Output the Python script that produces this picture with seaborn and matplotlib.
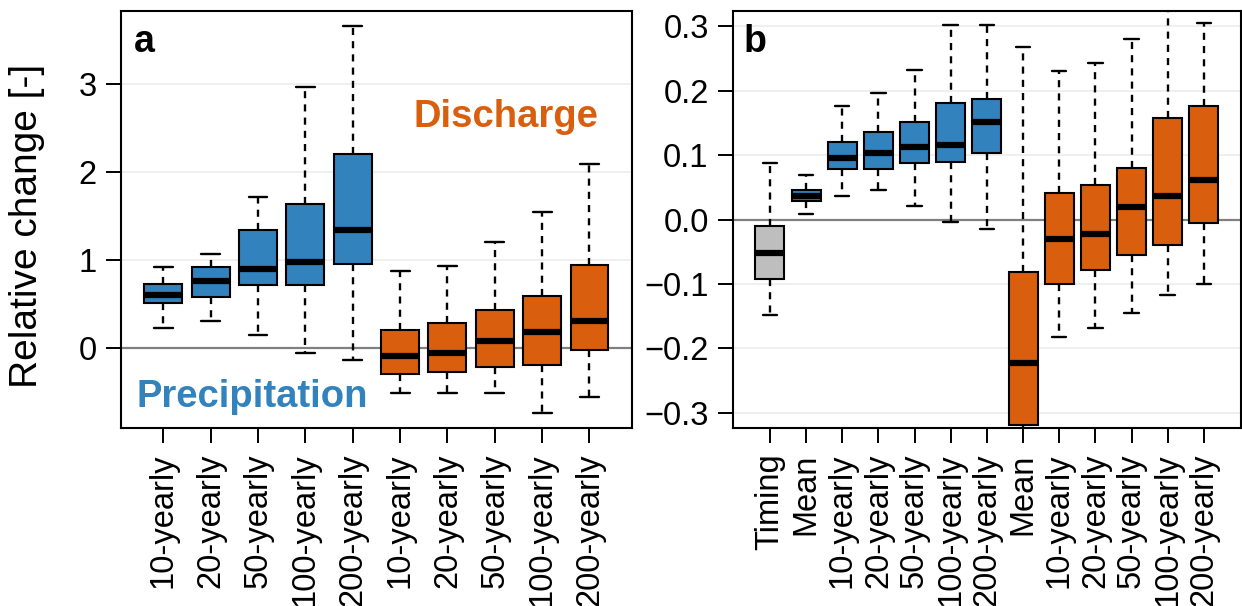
import numpy as np
import pandas as pd
import matplotlib
matplotlib.use("Agg")
import matplotlib.pyplot as plt
import seaborn as sns

# ── Data (five-number summaries) ──────────────────────────────────────────────
RETURN_LABELS = ["10-yearly", "20-yearly", "50-yearly", "100-yearly", "200-yearly"]

# panel a: precipitation (5) then discharge (5) extremes
a_groups = ["Precipitation"] * 5 + ["Discharge"] * 5
a_labels = RETURN_LABELS + RETURN_LABELS
a_low  = [0.22, 0.30, 0.15, -0.06, -0.14, -0.52, -0.52, -0.52, -0.74, -0.56]
a_q1   = [0.51, 0.58, 0.72, 0.71, 0.95, -0.30, -0.28, -0.22, -0.20, -0.03]
a_med  = [0.60, 0.76, 0.90, 0.98, 1.34, -0.10, -0.06, 0.08, 0.18, 0.31]
a_q3   = [0.73, 0.92, 1.34, 1.64, 2.21, 0.20, 0.28, 0.43, 0.59, 0.94]
a_high = [0.92, 1.07, 1.72, 2.97, 3.66, 0.87, 0.93, 1.20, 1.55, 2.09]

# panel b: timing, precipitation mean + extremes, discharge mean + extremes
b_groups = ["Timing"] + ["Precipitation"] * 6 + ["Discharge"] * 6
b_labels = ["Timing", "Mean"] + RETURN_LABELS + ["Mean"] + RETURN_LABELS
b_low  = [-0.149, 0.009, 0.036, 0.046, 0.021, -0.004, -0.014,
          -0.45, -0.182, -0.169, -0.145, -0.118, -0.100]
b_q1   = [-0.093, 0.029, 0.079, 0.079, 0.088, 0.090, 0.103,
          -0.319, -0.100, -0.079, -0.055, -0.039, -0.006]
b_med  = [-0.052, 0.036, 0.096, 0.104, 0.113, 0.116, 0.151,
          -0.223, -0.031, -0.022, 0.019, 0.036, 0.062]
b_q3   = [-0.010, 0.046, 0.121, 0.136, 0.151, 0.181, 0.187,
          -0.081, 0.041, 0.054, 0.080, 0.158, 0.176]
b_high = [0.088, 0.069, 0.176, 0.197, 0.232, 0.302, 0.303,
          0.268, 0.231, 0.244, 0.280, 0.36, 0.305]

COLORS = {"Timing": "#BEBEBE", "Precipitation": "#3182BD", "Discharge": "#D95F0E"}


def long_table(groups, labels, *stats):
    """Five rows per box (min, q1, median, q3, max) so the box stats come back exact."""
    rows = []
    for i, (g, lab) in enumerate(zip(groups, labels)):
        key = f"{i:02d} {lab}"
        for s in stats:
            rows.append({"key": key, "group": g, "value": s[i]})
    return pd.DataFrame(rows)


def draw_panel(ax, df, labels, ylim, letter, letter_x):
    n = len(labels)
    sns.boxplot(
        data=df, x="key", y="value", hue="group", palette=COLORS,
        order=sorted(df["key"].unique()), dodge=False, whis=(0, 100),
        width=0.8, saturation=1, linecolor="black", linewidth=1.5,
        legend=False, ax=ax,
        medianprops=dict(linewidth=4.5, color="black"),
        whiskerprops=dict(linestyle=(0, (3, 2.6)), linewidth=1.7),
        capprops=dict(linewidth=1.7),
        zorder=3,
    )
    ax.axhline(0, color="#808080", lw=1.6, zorder=2.5)
    ax.set_xlim(-0.04 * n - 0.5, n - 0.5 + 0.04 * n)
    ax.set_ylim(*ylim)
    ax.set_xticks(range(n))
    ax.set_xticklabels(labels, rotation=90, ha="center", va="top")
    ax.set_xticks(np.arange(1, n, 2), minor=True)
    ax.grid(False)
    ax.grid(True, which="minor", axis="x", color="#EBEBEB", lw=1.1, zorder=0)
    ax.grid(True, which="major", axis="y", color="#EBEBEB", lw=1.1, zorder=0)
    ax.tick_params(axis="x", which="minor", length=0, bottom=False)
    ax.tick_params(which="major", direction="out", length=10.5, width=1.4,
                   color="black", labelcolor="black", labelsize=23.5, pad=7,
                   bottom=True, left=True)
    ax.tick_params(axis="x", pad=8)
    ax.set_xlabel("")
    ax.set_ylabel("")
    for sp in ax.spines.values():
        sp.set_visible(True)
        sp.set_color("black")
        sp.set_linewidth(1.5)
    ax.text(letter_x, 0.925, letter, transform=ax.transAxes, fontsize=27,
            fontweight="bold", color="black", ha="left", va="center")


def main():
    sns.set_theme(style="white")
    plt.rcParams["font.family"] = ["Liberation Sans", "DejaVu Sans"]
    plt.rcParams["text.color"] = "black"
    plt.rcParams["axes.labelcolor"] = "black"

    fig = plt.figure(figsize=(12.42, 6.06), dpi=100)
    ax_a = fig.add_axes([0.0972, 0.2937, 0.4117, 0.6881])
    ax_b = fig.add_axes([0.5902, 0.2937, 0.4088, 0.6881])

    df_a = long_table(a_groups, a_labels, a_low, a_q1, a_med, a_q3, a_high)
    df_b = long_table(b_groups, b_labels, b_low, b_q1, b_med, b_q3, b_high)

    draw_panel(ax_a, df_a, a_labels, (-0.915, 3.836), "a", 0.026)
    ax_a.set_yticks([0, 1, 2, 3])
    ax_a.set_yticklabels(["0", "1", "2", "3"])
    ax_a.set_ylabel("Relative change [-]", fontsize=28, color="black")
    ax_a.yaxis.set_label_coords(-0.148, 0.485)
    ax_a.text(0.572, 0.745, "Discharge", transform=ax_a.transAxes,
              color=COLORS["Discharge"], fontsize=27.5, fontweight="bold",
              ha="left", va="center")
    ax_a.text(0.03, 0.074, "Precipitation", transform=ax_a.transAxes,
              color=COLORS["Precipitation"], fontsize=27.5, fontweight="bold",
              ha="left", va="center")

    draw_panel(ax_b, df_b, b_labels, (-0.324, 0.324), "b", 0.02)
    ticks_b = [-0.3, -0.2, -0.1, 0.0, 0.1, 0.2, 0.3]
    ax_b.set_yticks(ticks_b)
    ax_b.set_yticklabels([f"{t:.1f}".replace("-", "\u2212") for t in ticks_b])

    fig.savefig("out.png", dpi=100)
    plt.close(fig)


if __name__ == "__main__":
    main()
